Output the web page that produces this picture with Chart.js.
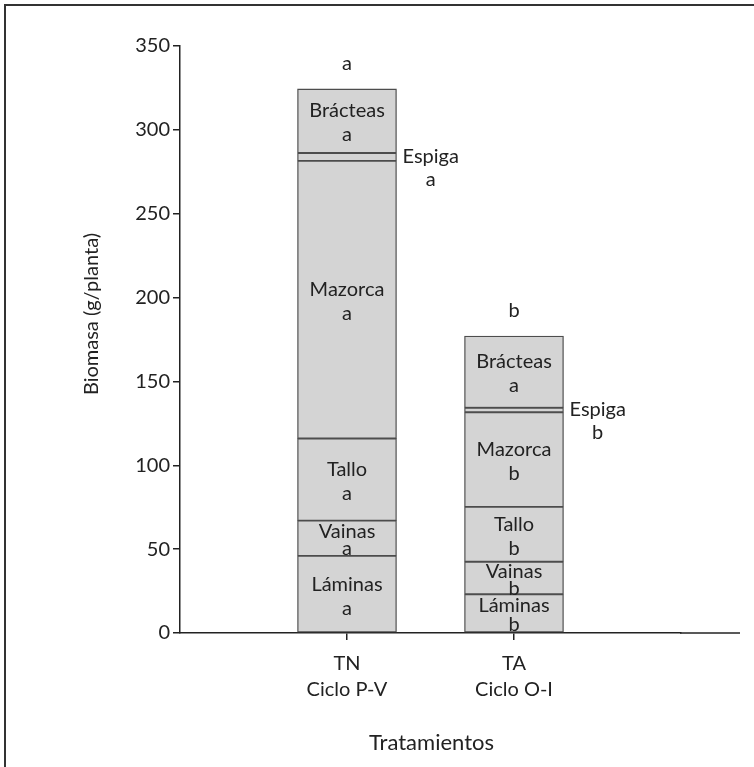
<!DOCTYPE html>
<html><head><meta charset="utf-8">
<script src="https://cdn.jsdelivr.net/npm/chart.js@4/dist/chart.umd.min.js"></script>
<style>html,body{margin:0;padding:0;background:#fff;} #wrap{position:relative;width:754px;height:767px;}</style>
</head><body><div id="wrap"><canvas id="c" width="754" height="767"></canvas></div>
<script>
// ---- data ----
const categories = [['TN', 'Ciclo P-V'], ['TA', 'Ciclo O-I']];
const components = ['Láminas', 'Vainas', 'Tallo', 'Mazorca', 'Espiga', 'Brácteas'];
const laminas  = [46.0, 23.1];
const vainas   = [21.0, 19.4];
const tallo    = [49.0, 32.7];
const mazorca  = [165.5, 56.4];
const espiga   = [4.7, 2.7];
const bracteas = [38.2, 42.8];
const laminasLetters  = ['a', 'b'];
const vainasLetters   = ['a', 'b'];
const talloLetters    = ['a', 'b'];
const mazorcaLetters  = ['a', 'b'];
const espigaLetters   = ['a', 'b'];
const bracteasLetters = ['a', 'a'];
const totalLetters = ['a', 'b'];
const yTickValues = [0, 50, 100, 150, 200, 250, 300, 350];
const yTitle = 'Biomasa (g/planta)';
const xTitle = 'Tratamientos';

const series = [laminas, vainas, tallo, mazorca, espiga, bracteas];
const letters = [laminasLetters, vainasLetters, talloLetters, mazorcaLetters, espigaLetters, bracteasLetters];
// category axis padded with one empty slot on each side
const slots = ['', ...categories.map(c => c.join(' ')), ''];

const FONT = 'Lato, "DejaVu Sans", sans-serif';
const TXT = '#222';

const annot = {
  id: 'annot',
  beforeDraw(chart) {
    const ctx = chart.ctx;
    ctx.save();
    ctx.fillStyle = '#fff';
    ctx.fillRect(0, 0, chart.width, chart.height);
    ctx.strokeStyle = '#333';
    ctx.lineWidth = 2;
    ctx.beginPath();
    ctx.moveTo(5, chart.height);
    ctx.lineTo(5, 5);
    ctx.lineTo(chart.width, 5);
    ctx.stroke();
    ctx.restore();
  },
  afterDraw(chart) {
    const ctx = chart.ctx;
    const a = chart.chartArea;
    ctx.save();
    // extension of the x axis line to the right
    ctx.strokeStyle = '#222';
    ctx.lineWidth = 1.5;
    ctx.beginPath();
    ctx.moveTo(a.right - 1, a.bottom);
    ctx.lineTo(740, a.bottom);
    ctx.stroke();
    ctx.fillStyle = TXT;
    ctx.font = '20px ' + FONT;
    ctx.textBaseline = 'middle';
    components.forEach((name, d) => {
      const meta = chart.getDatasetMeta(d);
      meta.data.forEach((el, j) => {
        const i = j - 1;
        if (i < 0 || i >= categories.length || el.y == null || isNaN(el.y)) return;
        const top = el.y, base = el.base;
        const h = base - top;
        const c = (top + base) / 2;
        if (name === 'Espiga') {
          ctx.textAlign = 'left';
          const x0 = el.x + el.width / 2 + 6;
          ctx.fillText(name, x0, c);
          const w = ctx.measureText(name).width;
          ctx.textAlign = 'center';
          ctx.fillText(letters[d][i], x0 + w / 2, c + 23);
        } else {
          const s = Math.min(24, h / 2);
          ctx.textAlign = 'center';
          ctx.fillText(name, el.x, c + 2 - s / 2);
          ctx.fillText(letters[d][i], el.x, c + 2 + s / 2);
        }
      });
    });
    // total letters above bars
    const lastMeta = chart.getDatasetMeta(components.length - 1);
    lastMeta.data.forEach((el, j) => {
      const i = j - 1;
      if (i < 0 || i >= categories.length) return;
      ctx.textAlign = 'center';
      ctx.fillText(totalLetters[i], el.x, el.y - 25);
    });
    // x title
    const xs = chart.scales.x;
    const xc = (xs.getPixelForValue(1) + xs.getPixelForValue(categories.length)) / 2;
    ctx.font = '22px ' + FONT;
    ctx.textAlign = 'center';
    ctx.fillText(xTitle, xc + 1, 743);
    // y title
    ctx.translate(92, 314);
    ctx.rotate(-Math.PI / 2);
    ctx.font = '20px ' + FONT;
    ctx.fillText(yTitle, 0, 0);
    ctx.restore();
  }
};

new Chart(document.getElementById('c'), {
  type: 'bar',
  data: {
    labels: slots,
    datasets: components.map((name, k) => ({
      label: name,
      data: [null, ...series[k], null],
      backgroundColor: '#d4d4d4',
      borderColor: '#4d4d4d',
      borderWidth: 1.3,
      borderSkipped: false,
      barThickness: 99
    }))
  },
  options: {
    responsive: false,
    animation: false,
    layout: { padding: { left: 0, top: 46, right: 73, bottom: 0 } },
    plugins: { legend: { display: false }, tooltip: { enabled: false } },
    scales: {
      x: {
        type: 'category',
        stacked: true,
        offset: false,
        afterBuildTicks: s => { s.ticks = categories.map((c, i) => ({ value: i + 1 })); },
        afterFit: s => { s.height = 134; },
        ticks: {
          callback: v => categories[v - 1] || '',
          font: { family: FONT, size: 20, lineHeight: 1.3 },
          color: TXT,
          padding: 11,
          maxRotation: 0,
          autoSkip: false
        },
        grid: { offset: false, drawOnChartArea: false, drawTicks: true, tickLength: 7, color: '#222', lineWidth: 1.5 },
        border: { display: true, color: '#222', width: 1.5 }
      },
      y: {
        stacked: true,
        min: 0,
        max: 350,
        afterBuildTicks: s => { s.ticks = yTickValues.map(v => ({ value: v })); },
        afterFit: s => { s.width = 180; },
        ticks: { font: { family: FONT, size: 20 }, color: TXT, padding: 3 },
        grid: { drawOnChartArea: false, drawTicks: true, tickLength: 7, color: '#222', lineWidth: 1.5 },
        border: { display: true, color: '#222', width: 1.5 },
        title: { display: false }
      }
    }
  },
  plugins: [annot]
});
</script>
</body></html>
